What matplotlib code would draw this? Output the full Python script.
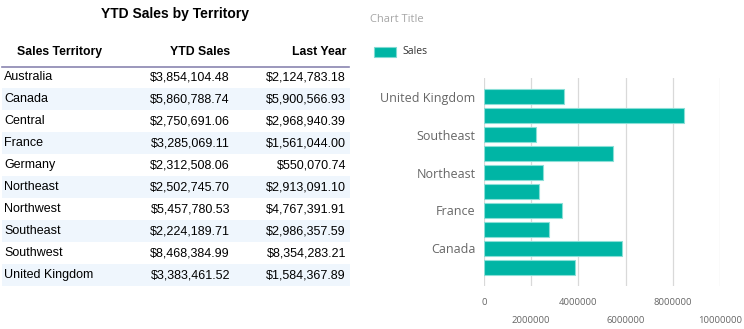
import matplotlib.pyplot as plt
from matplotlib.patches import Rectangle

territories = ['Australia', 'Canada', 'Central', 'France', 'Germany',
               'Northeast', 'Northwest', 'Southeast', 'Southwest', 'United Kingdom']
ytd_sales = [3854104.48, 5860788.74, 2750691.06, 3285069.11, 2312508.06,
             2502745.70, 5457780.53, 2224189.71, 8468384.99, 3383461.52]
last_year = [2124783.18, 5900566.93, 2968940.39, 1561044.00, 550070.74,
             2913091.10, 4767391.91, 2986357.59, 8354283.21, 1584367.89]
x_ticks = [0, 2000000, 4000000, 6000000, 8000000, 10000000]

W, H = 744, 329
fig = plt.figure(figsize=(W / 100, H / 100), dpi=100)

# ---- table on the left (pixel coordinates) ----
tab = fig.add_axes([0, 0, 1, 1])
tab.set_xlim(0, W)
tab.set_ylim(H, 0)
tab.axis('off')

tfont = 'Liberation Sans'
tab.text(175, 14, 'YTD Sales by Territory', ha='center', va='center',
         fontsize=10, fontweight='bold', family=tfont)
tab.text(60, 52, 'Sales Territory', ha='center', va='center',
         fontsize=8.8, fontweight='bold', family=tfont)
tab.text(230, 52, 'YTD Sales', ha='right', va='center',
         fontsize=8.8, fontweight='bold', family=tfont)
tab.text(346, 52, 'Last Year', ha='right', va='center',
         fontsize=8.8, fontweight='bold', family=tfont)
tab.plot([2, 349], [66.5, 66.5], color='#8a85b0', lw=1.2)

row_h = 22
for i, name in enumerate(territories):
    top = 66 + i * row_h
    if i % 2 == 1:
        tab.add_patch(Rectangle((2, top), 348, row_h, color='#eff6fd', lw=0))
    yc = top + row_h / 2
    tab.text(4, yc, name, ha='left', va='center', fontsize=9, family=tfont)
    tab.text(230, yc, f'${ytd_sales[i]:,.2f}', ha='right', va='center',
             fontsize=9, family=tfont)
    tab.text(346, yc, f'${last_year[i]:,.2f}', ha='right', va='center',
             fontsize=9, family=tfont)

# ---- bar chart on the right ----
cfont = 'Open Sans'
grey = '#666666'
teal = '#00b5a5'

tab.text(370, 19, 'Chart Title', ha='left', va='center', fontsize=8,
         color='#a6a6a6', family=cfont)
tab.add_patch(Rectangle((374, 47), 22, 10, facecolor=teal,
                        edgecolor='#7fdad2', lw=0.8))
tab.text(402, 52, 'Sales', ha='left', va='center', fontsize=7.5,
         color='#333333', family=cfont)

ax = fig.add_axes([484 / W, 1 - 286 / H, (720 - 484) / W, (286 - 78) / H])
pos = list(range(len(territories)))
ax.barh(pos, ytd_sales, height=0.78, color=teal, edgecolor='#8adfd7', lw=0.8)
ax.set_xlim(0, 10000000)
ax.set_ylim(-0.975, 9.975)
ax.set_yticks(pos)
ax.set_yticklabels([t if i % 2 == 1 else '' for i, t in enumerate(territories)],
                   fontsize=9, color=grey, family=cfont)
ax.set_xticks(x_ticks)
ax.set_xticklabels([str(v) for v in x_ticks], fontsize=6.8, color=grey,
                   family=cfont)
for i, tk in enumerate(ax.xaxis.get_major_ticks()):
    tk.set_pad(8.5 if i % 2 == 0 else 21.5)
ax.tick_params(axis='both', length=0)
ax.tick_params(axis='y', pad=6)
ax.grid(axis='x', color='#d9d9d9', lw=0.9)
ax.set_axisbelow(True)
for s in ax.spines.values():
    s.set_visible(False)

fig.savefig('out.png', dpi=100)
